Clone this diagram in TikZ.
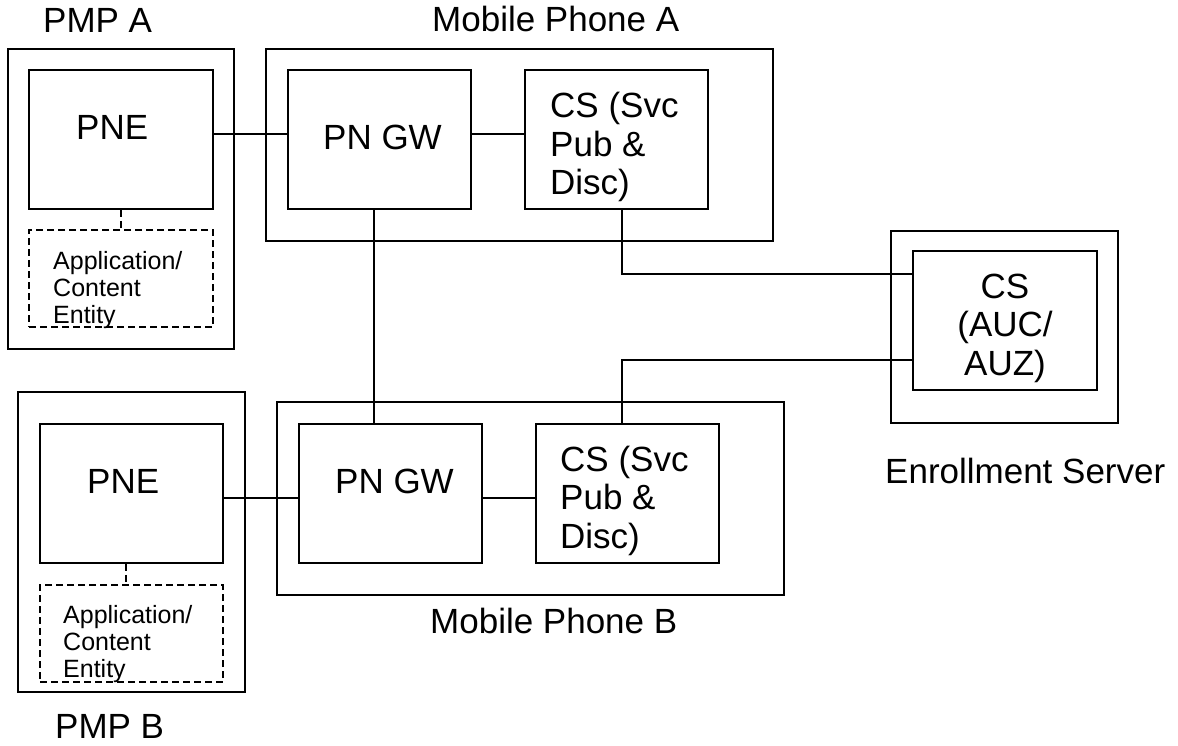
\documentclass[tikz,border=0pt]{standalone}
\usepackage{fontspec}
\setmainfont{Liberation Sans}
\usetikzlibrary{fit}
\begin{document}
\begin{tikzpicture}[x=1pt,y=-1pt,
  box/.style={draw,line width=1.8pt,rectangle,inner sep=0pt},
  dbox/.style={draw,line width=1.5pt,dash pattern=on 7pt off 4pt,rectangle,inner sep=0pt},
  big/.style={font=\fontsize{35}{38.5}\selectfont,inner sep=0pt,anchor=base west,align=left},
  small/.style={font=\fontsize{25}{27}\selectfont,inner sep=0pt,anchor=base west,align=left},
  wire/.style={line width=1.8pt},
  dwire/.style={line width=1.5pt,dash pattern=on 7pt off 4pt}]
\useasboundingbox (0,0) rectangle (1178,746);
% containers
\node[box,fit={(8,49) (234,349)}] (pmpA) {};
\node[box,fit={(266,49) (773,241)}] (mobA) {};
\node[box,fit={(891,231) (1118,423)}] (enr) {};
\node[box,fit={(18,392) (245,692)}] (pmpB) {};
\node[box,fit={(277,402) (784,595)}] (mobB) {};
% inner boxes
\node[box,fit={(29,70) (213,209)}] (pneA) {};
\node[dbox,fit={(29,230) (213,327)}] (appA) {};
\node[box,fit={(288,70) (471,209)}] (gwA) {};
\node[box,fit={(525,70) (708,209)}] (csA) {};
\node[box,fit={(913,251) (1097,390)}] (csE) {};
\node[box,fit={(40,424) (223,563)}] (pneB) {};
\node[dbox,fit={(40,585) (223,682)}] (appB) {};
\node[box,fit={(299,424) (482,563)}] (gwB) {};
\node[box,fit={(536,424) (719,563)}] (csB) {};
% texts (multi-line texts are placed by the baseline of their last line)
\node[big] (tPmpA) at (43,33) {PMP A};
\node[big] (tMobA) at (432,32) {Mobile Phone A};
\node[big] (tPneA) at (76,140) {PNE};
\node[big] (tGwA) at (323,150) {PN GW};
\node[big] (tCsA) at (550,195) {CS (Svc\\Pub \&\\Disc)};
\node[small] (tAppA) at (53,323) {Application/\\Content\\Entity};
\node[big,anchor=base,align=center] (tCsE) at (1005,375) {CS\\(AUC/\\AUZ)};
\node[big] (tEnr) at (885,483) {Enrollment Server};
\node[big] (tPneB) at (87,493) {PNE};
\node[big] (tGwB) at (335,493) {PN GW};
\node[big] (tCsB) at (560,548) {CS (Svc\\Pub \&\\Disc)};
\node[small] (tAppB) at (63,677) {Application/\\Content\\Entity};
\node[big] (tMobB) at (430,633) {Mobile Phone B};
\node[big] (tPmpB) at (55,738) {PMP B};
% connectors
\draw[wire] ([yshift=5.5pt]pneA.east) -- ([yshift=5.5pt]gwA.west);
\draw[wire] ([yshift=5.5pt]gwA.east) -- ([yshift=5.5pt]csA.west);
\draw[dwire] (pneA.south) -- (appA.north);
\draw[wire] ([xshift=-5.5pt]gwA.south) -- ([xshift=-5.5pt]gwA.south |- gwB.north);
\draw[wire] ([xshift=5.5pt]csA.south) |- ([yshift=46.5pt]csE.west);
\draw[wire] ([xshift=-5.5pt]csB.north) |- ([yshift=-39.5pt]csE.west);
\draw[wire] ([yshift=-4.5pt]pneB.east) -- ([yshift=-4.5pt]gwB.west);
\draw[wire] ([yshift=-4.5pt]gwB.east) -- ([yshift=-4.5pt]csB.west);
\draw[dwire] ([xshift=-5.5pt]pneB.south) -- ([xshift=-5.5pt]appB.north);
\end{tikzpicture}
\end{document}
